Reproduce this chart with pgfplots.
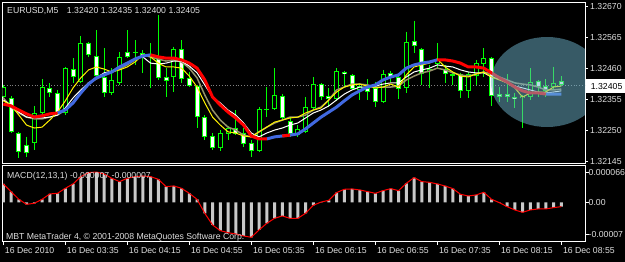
\documentclass[border=0pt]{standalone}
\usepackage{fontspec}
\setmainfont{Liberation Sans}
\usepackage{pgfplots}
\usepackage{pgfplotstable}
\pgfplotsset{compat=1.18}
\definecolor{cg}{RGB}{0,255,0}
\definecolor{txt}{RGB}{222,222,222}
\definecolor{mablue}{RGB}{65,105,225}
\definecolor{khaki}{RGB}{150,145,105}
\definecolor{ell}{RGB}{110,180,205}
\definecolor{silverbar}{RGB}{200,200,200}
\newcommand{\mtf}{\fontsize{8.7bp}{10bp}\selectfont}

\pgfplotstableread{
x O H L C
0 1.32365 1.32405 1.32360 1.32397
1 1.32360 1.32368 1.32241 1.32247
2 1.32241 1.32247 1.32156 1.32179
3 1.32201 1.32230 1.32160 1.32175
4 1.32207 1.32334 1.32184 1.32309
5 1.32309 1.32424 1.32303 1.32399
6 1.32394 1.32410 1.32365 1.32378
7 1.32377 1.32388 1.32303 1.32309
8 1.32309 1.32467 1.32303 1.32461
9 1.32458 1.32495 1.32410 1.32433
10 1.32416 1.32571 1.32410 1.32546
11 1.32548 1.32552 1.32499 1.32507
12 1.32503 1.32591 1.32431 1.32435
13 1.32433 1.32529 1.32365 1.32379
14 1.32377 1.32461 1.32371 1.32422
15 1.32413 1.32518 1.32405 1.32499
16 1.32518 1.32591 1.32495 1.32501
17 1.32514 1.32557 1.32473 1.32516
18 1.32512 1.32523 1.32444 1.32501
19 1.32507 1.32546 1.32394 1.32499
20 1.32495 1.32642 1.32422 1.32430
21 1.32433 1.32461 1.32365 1.32418
22 1.32431 1.32535 1.32382 1.32526
23 1.32526 1.32557 1.32413 1.32424
24 1.32427 1.32450 1.32397 1.32401
25 1.32401 1.32405 1.32258 1.32295
26 1.32295 1.32303 1.32218 1.32230
27 1.32232 1.32241 1.32184 1.32190
28 1.32190 1.32252 1.32182 1.32241
29 1.32239 1.32266 1.32218 1.32260
30 1.32258 1.32320 1.32235 1.32239
31 1.32241 1.32258 1.32196 1.32205
32 1.32209 1.32218 1.32162 1.32182
33 1.32182 1.32329 1.32179 1.32322
34 1.32322 1.32397 1.32295 1.32325
35 1.32322 1.32461 1.32320 1.32371
36 1.32369 1.32374 1.32286 1.32292
37 1.32284 1.32297 1.32230 1.32239
38 1.32235 1.32269 1.32230 1.32255
39 1.32247 1.32365 1.32241 1.32329
40 1.32326 1.32431 1.32320 1.32408
41 1.32407 1.32410 1.32354 1.32363
42 1.32368 1.32394 1.32331 1.32356
43 1.32356 1.32461 1.32352 1.32452
44 1.32450 1.32453 1.32394 1.32442
45 1.32439 1.32442 1.32388 1.32390
46 1.32388 1.32410 1.32354 1.32401
47 1.32394 1.32424 1.32354 1.32382
48 1.32394 1.32416 1.32329 1.32348
49 1.32348 1.32456 1.32343 1.32442
50 1.32447 1.32453 1.32416 1.32433
51 1.32431 1.32439 1.32356 1.32390
52 1.32394 1.32586 1.32377 1.32552
53 1.32554 1.32623 1.32512 1.32538
54 1.32526 1.32529 1.32405 1.32442
55 1.32453 1.32473 1.32394 1.32460
56 1.32476 1.32546 1.32461 1.32490
57 1.32458 1.32473 1.32413 1.32442
58 1.32441 1.32444 1.32405 1.32435
59 1.32442 1.32447 1.32360 1.32386
60 1.32386 1.32450 1.32360 1.32442
61 1.32435 1.32490 1.32405 1.32478
62 1.32475 1.32529 1.32433 1.32495
63 1.32495 1.32499 1.32334 1.32368
64 1.32373 1.32397 1.32348 1.32365
65 1.32373 1.32442 1.32348 1.32365
66 1.32363 1.32377 1.32326 1.32356
67 1.32360 1.32371 1.32258 1.32368
68 1.32365 1.32461 1.32354 1.32416
69 1.32418 1.32422 1.32365 1.32399
70 1.32401 1.32424 1.32365 1.32386
71 1.32397 1.32467 1.32388 1.32413
72 1.32420 1.32435 1.32400 1.32405
}\candles

\pgfplotstableread{
x R B Y W G
0 1.32340 nan 1.32351 1.32354 1.32361
1 1.32334 nan 1.32337 1.32337 1.32330
2 1.32320 nan 1.32303 1.32313 1.32310
3 1.32307 nan 1.32269 1.32296 1.32296
4 1.32296 1.32296 1.32259 1.32293 1.32290
5 1.32300 1.32300 1.32262 1.32293 1.32290
6 1.32307 nan 1.32286 1.32296 1.32296
7 1.32310 1.32310 1.32313 1.32303 1.32303
8 nan 1.32320 1.32351 1.32327 1.32320
9 nan 1.32344 1.32395 1.32361 1.32347
10 nan 1.32378 1.32429 1.32388 1.32381
11 nan 1.32408 1.32456 1.32412 1.32412
12 nan 1.32429 1.32466 1.32429 1.32425
13 nan 1.32439 1.32459 1.32446 1.32439
14 nan 1.32449 1.32449 1.32452 1.32449
15 nan 1.32466 1.32456 1.32466 1.32459
16 nan 1.32479 1.32466 1.32479 1.32473
17 nan 1.32493 1.32483 1.32493 1.32490
18 nan 1.32503 1.32507 1.32500 1.32507
19 1.32507 1.32507 1.32500 1.32479 1.32500
20 1.32500 nan 1.32479 1.32476 1.32493
21 1.32496 nan 1.32466 1.32479 1.32486
22 1.32496 nan 1.32466 1.32486 1.32490
23 1.32490 nan 1.32462 1.32486 1.32483
24 1.32479 nan 1.32435 1.32469 1.32462
25 1.32462 nan 1.32398 1.32446 1.32429
26 1.32422 nan 1.32344 1.32405 1.32371
27 1.32364 nan 1.32296 1.32364 1.32320
28 1.32337 nan 1.32269 1.32344 1.32286
29 1.32313 nan 1.32246 1.32320 1.32262
30 1.32293 nan 1.32242 1.32303 1.32252
31 1.32269 nan 1.32232 1.32276 1.32235
32 1.32232 nan 1.32229 1.32242 1.32229
33 1.32222 nan 1.32246 1.32229 1.32246
34 1.32222 1.32222 1.32262 1.32242 1.32262
35 nan 1.32229 1.32279 1.32252 1.32276
36 1.32232 1.32232 1.32286 1.32259 1.32286
37 1.32235 1.32235 1.32293 1.32269 1.32296
38 nan 1.32239 1.32296 1.32276 1.32296
39 nan 1.32256 1.32310 1.32293 1.32303
40 nan 1.32276 1.32320 1.32310 1.32320
41 nan 1.32296 1.32327 1.32320 1.32330
42 nan 1.32313 1.32354 1.32334 1.32354
43 nan 1.32330 1.32381 1.32354 1.32388
44 nan 1.32351 1.32398 1.32374 1.32398
45 nan 1.32371 1.32405 1.32388 1.32408
46 nan 1.32385 1.32408 1.32398 1.32408
47 nan 1.32398 1.32401 1.32398 1.32405
48 nan 1.32405 1.32395 1.32401 1.32398
49 nan 1.32422 1.32398 1.32408 1.32398
50 nan 1.32432 1.32408 1.32412 1.32398
51 nan 1.32439 1.32398 1.32412 1.32401
52 nan 1.32462 1.32439 1.32432 1.32422
53 nan 1.32473 1.32466 1.32449 1.32435
54 nan 1.32479 1.32473 1.32456 1.32446
55 nan 1.32483 1.32479 1.32462 1.32452
56 1.32490 1.32490 1.32493 1.32473 1.32462
57 1.32490 nan 1.32466 1.32469 1.32456
58 1.32486 nan 1.32449 1.32466 1.32446
59 1.32479 nan 1.32435 1.32456 1.32439
60 1.32466 nan 1.32432 1.32449 1.32435
61 1.32466 nan 1.32442 1.32446 1.32442
62 1.32462 nan 1.32449 1.32446 1.32449
63 1.32446 nan 1.32432 1.32432 1.32442
64 1.32429 nan 1.32422 1.32425 1.32432
65 1.32415 nan 1.32412 1.32412 1.32422
66 1.32398 nan 1.32395 1.32401 1.32412
67 1.32385 nan 1.32364 1.32395 1.32408
68 1.32378 nan 1.32378 1.32388 1.32405
69 1.32378 nan 1.32381 1.32381 1.32398
70 1.32374 1.32374 1.32381 1.32378 1.32388
71 nan 1.32374 1.32398 1.32381 1.32388
72 nan 1.32374 1.32401 1.32385 1.32391
}\lines

\pgfplotstableread{
x M
0 4.00e-5
1 2.33e-5
2 6.5e-6
3 -4.4e-6
4 -2.2e-6
5 6.5e-6
6 1.82e-5
7 1.96e-5
8 3.05e-5
9 4.00e-5
10 5.60e-5
11 6.47e-5
12 6.60e-5
13 6.18e-5
14 5.23e-5
15 4.51e-5
16 5.23e-5
17 5.60e-5
18 5.74e-5
19 5.60e-5
20 5.02e-5
21 3.42e-5
22 3.56e-5
23 3.05e-5
24 1.96e-5
25 6.5e-6
26 -2.40e-5
27 -4.94e-5
28 -6.18e-5
29 -6.62e-5
30 -6.91e-5
31 -7.34e-5
32 -7.63e-5
33 -6.03e-5
34 -4.58e-5
35 -3.49e-5
36 -2.98e-5
37 -3.49e-5
38 -3.49e-5
39 -2.40e-5
40 -6.5e-6
41 5e-7
42 4.4e-6
43 2.11e-5
44 2.84e-5
45 2.91e-5
46 2.69e-5
47 2.33e-5
48 1.96e-5
49 2.54e-5
50 2.98e-5
51 2.54e-5
52 4.14e-5
53 5.38e-5
54 4.51e-5
55 4.36e-5
56 4.00e-5
57 3.56e-5
58 2.98e-5
59 1.74e-5
60 1.38e-5
61 1.60e-5
62 2.18e-5
63 6.5e-6
64 -7e-7
65 -9.5e-6
66 -1.67e-5
67 -2.18e-5
68 -1.67e-5
69 -1.45e-5
70 -1.45e-5
71 -1.16e-5
72 -9.5e-6
}\macd

\begin{document}
\begin{tikzpicture}
\path[use as bounding box] (0bp,0bp) rectangle (625bp,262bp);
\fill[black] (0bp,0bp) rectangle (625bp,262bp);

\begin{axis}[
  at={(2.5bp,98.7bp)}, anchor=south west,
  width=582.5bp, height=161bp, scale only axis,
  xmin=-0.103, xmax=75.058,
  ymin=1.321394, ymax=1.326852,
  axis line style={white, line width=0.8bp},
  xtick=\empty,
  scaled y ticks=false,
  ytick={1.32145,1.32250,1.32355,1.32460,1.32565,1.32670},
  yticklabels={1.32145,1.32250,1.32355,1.32460,1.32565,1.32670},
  ytick pos=right, yticklabel pos=right,
  tick align=outside, major tick length=3bp,
  tick style={white, line width=0.8bp},
  yticklabel style={font=\mtf, text=txt, anchor=west, inner sep=0pt, xshift=2bp},
  unbounded coords=jump,
]
\addplot[gray, dotted, line width=0.8bp] coordinates {(-1,1.32405) (76,1.32405)};
% wicks
\addplot[draw=none, forget plot, error bars/.cd, y dir=minus, y explicit, error mark=none,
  error bar style={draw=cg, line width=1bp}]
  table[x=x, y=H, y error minus expr={\thisrow{H}-\thisrow{L}}] {\candles};
% body outline
\addplot[draw=none, forget plot, error bars/.cd, y dir=minus, y explicit, error mark=none,
  error bar style={draw=cg, line width=5bp, line cap=butt}]
  table[x=x, y expr={max(\thisrow{O},\thisrow{C})},
        y error minus expr={max(abs(\thisrow{O}-\thisrow{C}),0.000034)}] {\candles};
% bear fill (white)
\addplot[draw=none, forget plot, error bars/.cd, y dir=minus, y explicit, error mark=none,
  error bar style={draw=white, line width=3bp, line cap=butt}]
  table[x=x, y expr={\thisrow{O}-0.000034},
        y error minus expr={max(\thisrow{O}-\thisrow{C}-0.000068,0)}] {\candles};
% bull fill (black)
\addplot[draw=none, forget plot, error bars/.cd, y dir=minus, y explicit, error mark=none,
  error bar style={draw=black, line width=3bp, line cap=butt}]
  table[x=x, y expr={\thisrow{C}-0.000034},
        y error minus expr={max(\thisrow{C}-\thisrow{O}-0.000068,0)}] {\candles};
% moving averages
\addplot[khaki, line width=1.5bp] table[x=x, y=G] {\lines};
\addplot[white, line width=1bp] table[x=x, y=W] {\lines};
\addplot[yellow, line width=1bp] table[x=x, y=Y] {\lines};
\addplot[mablue, line width=3bp] table[x=x, y=B] {\lines};
\addplot[red, line width=3bp] table[x=x, y=R] {\lines};
% ellipse object
\fill[ell, opacity=0.5] (axis cs:70.15,1.32415) ellipse [x radius=56bp, y radius=45bp];
\end{axis}

\begin{axis}[
  at={(2.5bp,20.7bp)}, anchor=south west,
  width=582.5bp, height=75.6bp, scale only axis,
  xmin=-0.103, xmax=75.058,
  ymin=-8.502e-5, ymax=7.979e-5,
  axis line style={white, line width=0.8bp},
  scaled y ticks=false, scaled x ticks=false,
  xtick={0,8,16,24,32,40,48,56,64,72},
  xticklabels={16 Dec 2010,16 Dec 03:35,16 Dec 04:15,16 Dec 04:55,16 Dec 05:35,16 Dec 06:15,16 Dec 06:55,16 Dec 07:35,16 Dec 08:15,16 Dec 08:55},
  xtick pos=bottom, xticklabel pos=bottom,
  ytick={-0.00007,0,0.000066},
  yticklabels={-0.00007,0.00,0.000066},
  ytick pos=right, yticklabel pos=right,
  tick align=outside, major tick length=3.5bp,
  tick style={white, line width=0.8bp},
  xticklabel style={font=\mtf, text=txt, anchor=north west, inner sep=0pt, xshift=1.5bp, yshift=-2bp},
  yticklabel style={font=\mtf, text=txt, anchor=west, inner sep=0pt, xshift=0bp},
]
\addplot[ybar, bar width=3bp, bar shift=0pt, fill=silverbar, draw=none] table[x=x, y=M] {\macd};
\addplot[red, line width=1bp] table[x=x, y=M] {\macd};
\end{axis}

% texts
\node[anchor=base west, inner sep=0pt, text=txt] at (7bp,248bp) {\mtf EURUSD,M5\hspace{8.5bp}1.32420 1.32435 1.32400 1.32405};
\node[anchor=base west, inner sep=0pt, text=txt] at (7bp,83.5bp) {\mtf MACD(12,13,1) -0.000007 -0.000007};
\node[anchor=base west, inner sep=0pt, text=txt] at (6bp,23bp) {\mtf MBT MetaTrader 4, © 2001-2008 MetaQuotes Software Corp.};
\fill[white] (586bp,169.3bp) rectangle (625bp,182.7bp);
\node[anchor=base west, inner sep=0pt, text=black] at (590.7bp,172.9bp) {\mtf 1.32405};
\end{tikzpicture}
\end{document}
